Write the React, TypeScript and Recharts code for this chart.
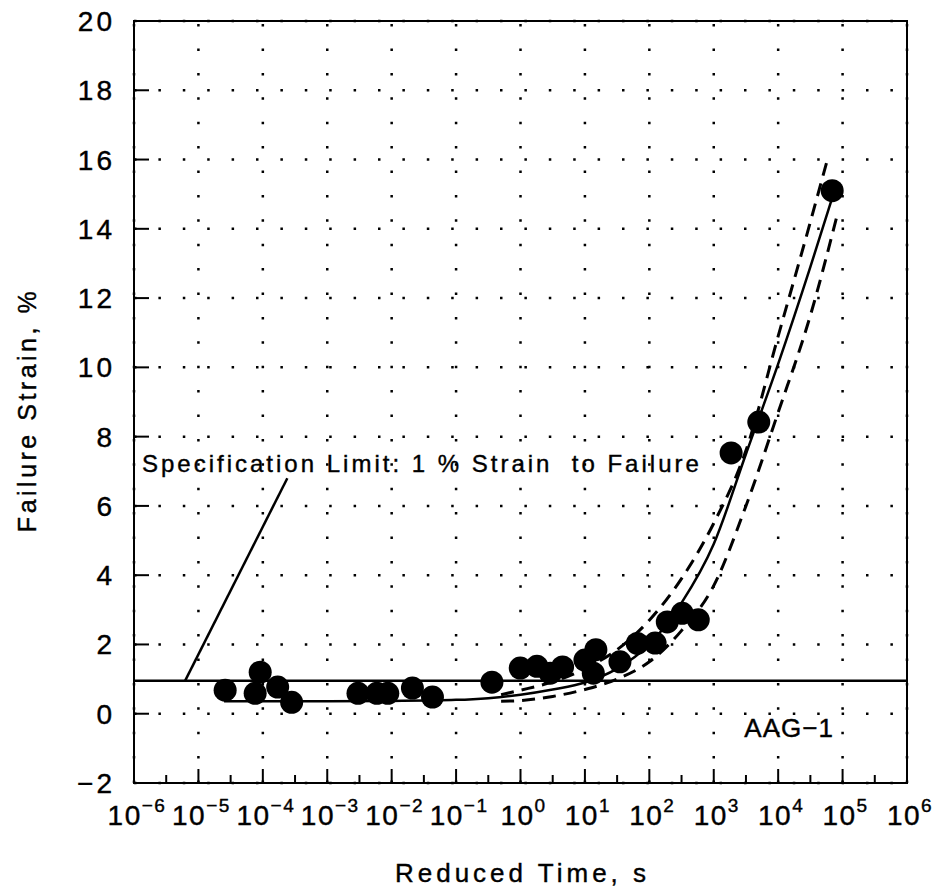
import React from "react";
import {
  ComposedChart,
  Line,
  Scatter,
  XAxis,
  YAxis,
  CartesianGrid,
  ReferenceLine,
  ReferenceArea,
} from "recharts";

// measured failure strain points (reduced time in s, strain in %)
const pointTimes = [
  2.6e-5, 7.6e-5, 9.1e-5, 1.7e-4, 2.8e-4, 3.0e-3, 5.9e-3, 8.7e-3, 2.1e-2, 4.3e-2,
  0.36, 0.99, 1.8, 2.9, 4.5, 10, 13.5, 14.8, 35, 65, 123, 190, 324, 575, 1860,
  5000, 69000,
];
const pointStrains = [
  0.68, 0.59, 1.2, 0.77, 0.33, 0.59, 0.59, 0.59, 0.74, 0.48,
  0.91, 1.32, 1.37, 1.17, 1.35, 1.55, 1.17, 1.85, 1.5, 2.03, 2.04, 2.65, 2.9, 2.71, 7.53,
  8.42, 15.1,
];

// fitted master curve
const fitTimes = [2.5e-5, 1e-3, 1e-2, 0.1, 0.316, 1, 3.16, 10, 31.6, 100, 316, 1000, 3162, 1e4, 31623, 69183];
const fitStrains = [0.36, 0.36, 0.37, 0.4, 0.45, 0.55, 0.7, 0.9, 1.3, 2.0, 3.2, 4.9, 7.5, 10.1, 12.9, 14.9];

// confidence bounds
const upperTimes = [0.5, 1, 3.16, 10, 31.6, 100, 316, 1000, 3162, 1e4, 31623, 56234];
const upperStrains = [0.55, 0.68, 0.92, 1.3, 1.85, 2.7, 3.9, 5.5, 7.6, 10.9, 14.2, 15.9];
const lowerTimes = [0.5, 1, 3.16, 10, 31.6, 100, 316, 1000, 3162, 1e4, 31623, 81283];
const lowerStrains = [0.36, 0.38, 0.5, 0.7, 1.0, 1.5, 2.4, 3.7, 6.0, 8.7, 11.5, 14.35];

const specLimit = 0.95;
const pointerStart = { x: 6.2e-6, y: 0.95 };
const pointerEnd = { x: 2.4e-4, y: 6.8 };
const specNote = [{ t: 1.33e-6, v: 7.22 }];
const curveNote = [{ t: 1.48e4, v: -0.4 }];

const decadeExps = [-6, -5, -4, -3, -2, -1, 0, 1, 2, 3, 4, 5, 6];
const xTicks = decadeExps.flatMap((e, i) =>
  i < decadeExps.length - 1 ? [10 ** e, 10 ** (e + 0.5)] : [10 ** e]
);
const yTicks = [-2, 0, 2, 4, 6, 8, 10, 12, 14, 16, 18, 20];

const zip = (ts: number[], vs: number[]) => ts.map((t, i) => ({ t, v: vs[i] }));
const points = zip(pointTimes, pointStrains);
const fit = zip(fitTimes, fitStrains);
const upper = zip(upperTimes, upperStrains);
const lower = zip(lowerTimes, lowerStrains);

const FONT = '"Liberation Sans", Arial, sans-serif';
const PLOT_H = 762;
const DOTS = "2.5 21.9";
const INK = { fill: "#000", stroke: "#000", strokeWidth: 0.4, fontFamily: FONT };

const XTick = ({ x, y, payload }: any) => {
  const e = Math.log10(payload.value);
  const exp = Math.round(e);
  if (Math.abs(e - exp) > 1e-6) {
    return <line x1={x} y1={y} x2={x} y2={y - 8} stroke="#000" strokeWidth={2} />;
  }
  return (
    <g>
      <line x1={x} y1={y} x2={x} y2={y - PLOT_H} stroke="#000" strokeWidth={2.5} strokeDasharray={DOTS} />
      <line x1={x} y1={y} x2={x} y2={y - 14} stroke="#000" strokeWidth={2} />
      <text x={x + 3} y={y + 42} textAnchor="middle" fontSize={28} letterSpacing={1.5} {...INK}>
        10
        <tspan dy={-13} fontSize={19}>
          {exp < 0 ? "\u2212" + Math.abs(exp) : String(exp)}
        </tspan>
      </text>
    </g>
  );
};

const YTick = ({ x, y, payload }: any) => {
  const v = payload.value;
  return (
    <g>
      <line x1={x} y1={y} x2={x + 15} y2={y} stroke="#000" strokeWidth={2} />
      <text x={x - 19} y={y} dy={10} textAnchor="end" fontSize={28} letterSpacing={3} {...INK}>
        {v < 0 ? "\u2212" + Math.abs(v) : String(v)}
      </text>
    </g>
  );
};

const Dot = ({ cx, cy }: any) => <circle cx={cx} cy={cy} r={11.5} fill="#000" />;

const SpecText = ({ cx, cy }: any) => (
  <text x={cx} y={cy} dy={8.5} fontSize={24} letterSpacing={3} {...INK} style={{ whiteSpace: "pre" }}>
    {"Specification Limit: 1 % Strain  to Failure"}
  </text>
);

const CurveText = ({ cx, cy }: any) => (
  <text x={cx} y={cy} dy={9.5} textAnchor="middle" fontSize={26} letterSpacing={1} {...INK}>
    AAG{"\u2212"}1
  </text>
);

const XTitle = ({ viewBox }: any) => (
  <text x={viewBox.x + viewBox.width / 2 + 2} y={viewBox.y + 99} textAnchor="middle" fontSize={26} letterSpacing={4} {...INK}>
    Reduced Time, s
  </text>
);

const YTitle = ({ viewBox }: any) => {
  const cx = 27;
  const cy = viewBox.y + viewBox.height / 2 + 8;
  return (
    <text x={cx} y={cy} dy={9} transform={`rotate(-90 ${cx} ${cy})`} textAnchor="middle" fontSize={25} letterSpacing={3.5} {...INK}>
      Failure Strain, %
    </text>
  );
};

export default function App() {
  return (
    <div style={{ position: "absolute", left: 0, top: 0, background: "#fff" }}>
      <ComposedChart width={939} height={894} margin={{ top: 21, right: 32, left: 0, bottom: 0 }}>
        <CartesianGrid vertical={false} stroke="#000" strokeWidth={2.5} strokeDasharray={DOTS} />
        <XAxis
          dataKey="t"
          type="number"
          scale="log"
          domain={[1e-6, 1e6]}
          ticks={xTicks}
          interval={0}
          allowDataOverflow
          height={111}
          tickSize={0}
          tickMargin={0}
          tickLine={false}
          axisLine={{ stroke: "#000", strokeWidth: 2 }}
          tick={<XTick />}
          label={{ content: XTitle }}
        />
        <YAxis
          type="number"
          domain={[-2, 20]}
          ticks={yTicks}
          interval={0}
          width={134}
          tickSize={0}
          tickMargin={0}
          tickLine={false}
          axisLine={{ stroke: "#000", strokeWidth: 2 }}
          tick={<YTick />}
          label={{ content: YTitle }}
        />
        <ReferenceArea x1={1e-6} x2={1e6} y1={-2} y2={20} fill="none" stroke="#000" strokeWidth={2} />
        <ReferenceLine y={specLimit} stroke="#000" strokeWidth={2.5} />
        <ReferenceLine segment={[pointerStart, pointerEnd]} stroke="#000" strokeWidth={2.5} />
        <Line data={fit} dataKey="v" type="monotone" stroke="#000" strokeWidth={2.5} dot={false} isAnimationActive={false} />
        <Line data={upper} dataKey="v" type="monotone" stroke="#000" strokeWidth={3} strokeDasharray="13 8" dot={false} isAnimationActive={false} />
        <Line data={lower} dataKey="v" type="monotone" stroke="#000" strokeWidth={3} strokeDasharray="13 8" dot={false} isAnimationActive={false} />
        <Scatter data={points} dataKey="v" shape={<Dot />} isAnimationActive={false} />
        <Scatter data={specNote} dataKey="v" shape={<SpecText />} isAnimationActive={false} />
        <Scatter data={curveNote} dataKey="v" shape={<CurveText />} isAnimationActive={false} />
      </ComposedChart>
    </div>
  );
}
